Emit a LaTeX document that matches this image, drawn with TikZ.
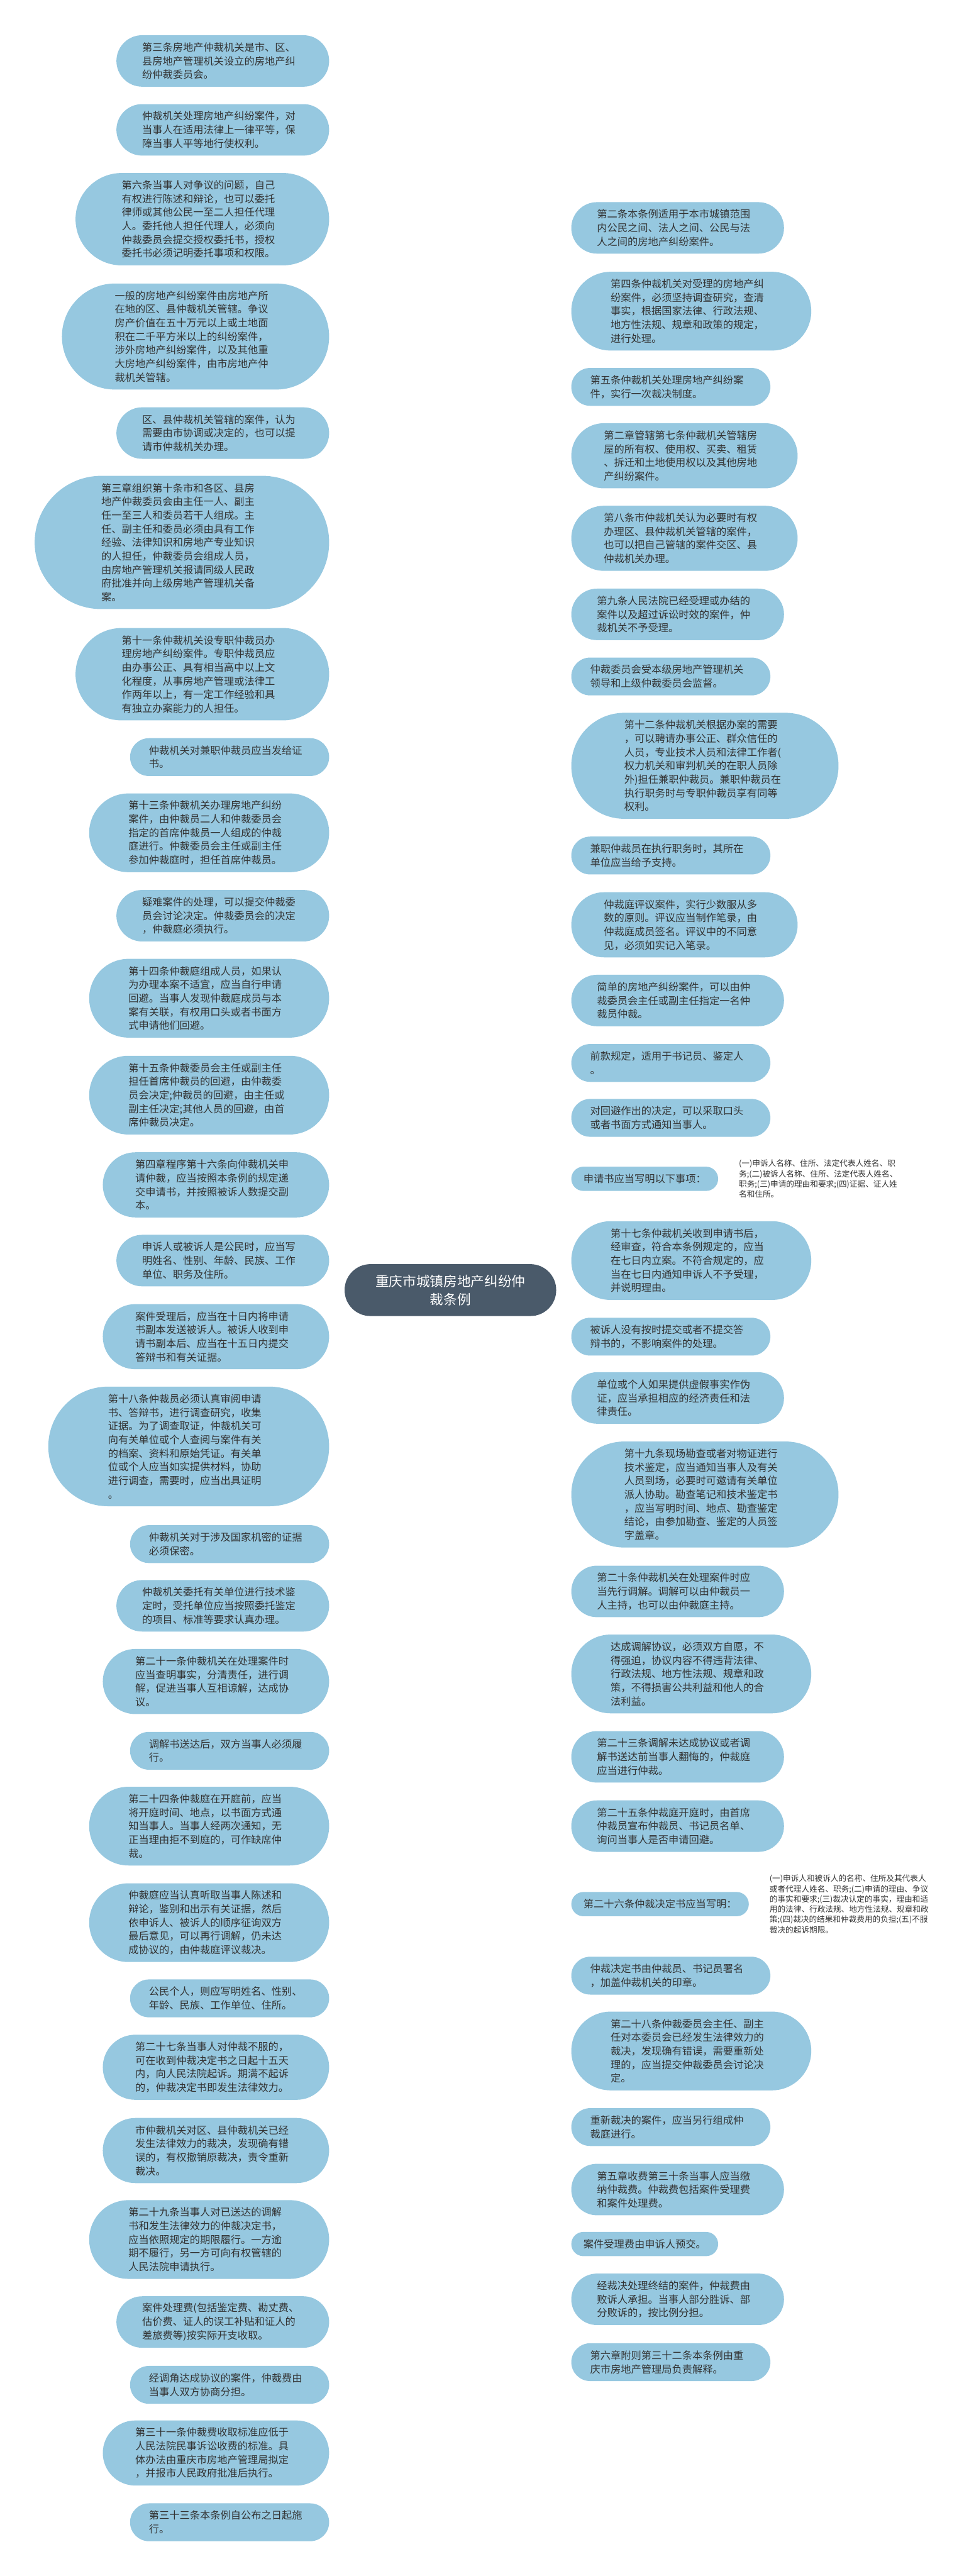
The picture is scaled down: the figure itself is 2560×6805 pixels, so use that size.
\documentclass[tikz,border=0pt]{standalone}
\usepackage{fontspec}
\newfontfamily\cjk{Noto Sans CJK SC}
\usetikzlibrary{backgrounds}
\definecolor{bubc}{HTML}{96C8E0}
\definecolor{txtc}{HTML}{333333}
\definecolor{lnkc}{HTML}{3D4C5A}
\definecolor{rootc}{HTML}{4A5A6A}
\tikzset{
  bubble/.style={fill=bubc, draw=none, text=txtc, font=\cjk\fontsize{13.5pt}{18pt}\selectfont, align=left, inner ysep=0pt},
  smalltxt/.style={text=txtc, font=\cjk\fontsize{10.5pt}{13.5pt}\selectfont, align=left, inner xsep=5.5pt, inner ysep=0pt},
  rootnode/.style={fill=rootc, draw=none, text=white, font=\cjk\fontsize{18pt}{24pt}\selectfont, align=center, minimum width=279.5pt, minimum height=68.5pt, rounded corners=34pt},
  link/.style={draw=lnkc, line width=1.5pt}
}
% left bubble: name, centre y, lines, text
\newcommand\LB[4]{\pgfmathsetmacro\hh{28+36*#3}%
  \node[bubble, anchor=east, minimum height=\hh*0.5pt, inner xsep=\hh*0.25pt, rounded corners=\hh*0.25pt, text width=213pt] (#1) at (870,#2) {#4};}
% right bubble
\newcommand\RB[4]{\pgfmathsetmacro\hh{28+36*#3}%
  \node[bubble, anchor=west, minimum height=\hh*0.5pt, inner xsep=\hh*0.25pt, rounded corners=\hh*0.25pt, text width=213pt] (#1) at (1509,#2) {#4};}
% right one-line bubble
\newcommand\RO[3]{%
  \node[bubble, anchor=west, minimum height=32pt, inner xsep=16pt, rounded corners=16pt] (#1) at (1509,#2) {#3};}
\begin{document}
\begin{tikzpicture}[x=0.5pt,y=-0.5pt]
\fill[white] (0,0) rectangle (2560,6805);
\useasboundingbox (0,0) rectangle (2560,6805);

\node[rootnode] (root) at (1190,3408) {重庆市城镇房地产纠纷仲\\裁条例};

\LB{L1}{161}{3}{第三条房地产仲裁机关是市、区、\\县房地产管理机关设立的房地产纠\\纷仲裁委员会。}
\LB{L2}{343}{3}{仲裁机关处理房地产纠纷案件，对\\当事人在适用法律上一律平等，保\\障当事人平等地行使权利。}
\LB{L3}{579}{6}{第六条当事人对争议的问题，自己\\有权进行陈述和辩论，也可以委托\\律师或其他公民一至二人担任代理\\人。委托他人担任代理人，必须向\\仲裁委员会提交授权委托书，授权\\委托书必须记明委托事项和权限。}
\LB{L4}{889}{7}{一般的房地产纠纷案件由房地产所\\在地的区、县仲裁机关管辖。争议\\房产价值在五十万元以上或土地面\\积在二千平方米以上的纠纷案件，\\涉外房地产纠纷案件，以及其他重\\大房地产纠纷案件，由市房地产仲\\裁机关管辖。}
\LB{L5}{1144}{3}{区、县仲裁机关管辖的案件，认为\\需要由市协调或决定的，也可以提\\请市仲裁机关办理。}
\LB{L6}{1433}{9}{第三章组织第十条市和各区、县房\\地产仲裁委员会由主任一人、副主\\任一至三人和委员若干人组成。主\\任、副主任和委员必须由具有工作\\经验、法律知识和房地产专业知识\\的人担任，仲裁委员会组成人员，\\由房地产管理机关报请同级人民政\\府批准并向上级房地产管理机关备\\案。}
\LB{L7}{1781}{6}{第十一条仲裁机关设专职仲裁员办\\理房地产纠纷案件。专职仲裁员应\\由办事公正、具有相当高中以上文\\化程度，从事房地产管理或法律工\\作两年以上，有一定工作经验和具\\有独立办案能力的人担任。}
\LB{L8}{2000}{2}{仲裁机关对兼职仲裁员应当发给证\\书。}
\LB{L9}{2200}{5}{第十三条仲裁机关办理房地产纠纷\\案件，由仲裁员二人和仲裁委员会\\指定的首席仲裁员一人组成的仲裁\\庭进行。仲裁委员会主任或副主任\\参加仲裁庭时，担任首席仲裁员。}
\LB{L10}{2419}{3}{疑难案件的处理，可以提交仲裁委\\员会讨论决定。仲裁委员会的决定\\，仲裁庭必须执行。}
\LB{L11}{2637}{5}{第十四条仲裁庭组成人员，如果认\\为办理本案不适宜，应当自行申请\\回避。当事人发现仲裁庭成员与本\\案有关联，有权用口头或者书面方\\式申请他们回避。}
\LB{L12}{2893}{5}{第十五条仲裁委员会主任或副主任\\担任首席仲裁员的回避，由仲裁委\\员会决定;仲裁员的回避，由主任或\\副主任决定;其他人员的回避，由首\\席仲裁员决定。}
\LB{L13}{3130}{4}{第四章程序第十六条向仲裁机关申\\请仲裁，应当按照本条例的规定递\\交申请书，并按照被诉人数提交副\\本。}
\LB{L14}{3330}{3}{申诉人或被诉人是公民时，应当写\\明姓名、性别、年龄、民族、工作\\单位、职务及住所。}
\LB{L15}{3531}{4}{案件受理后，应当在十日内将申请\\书副本发送被诉人。被诉人收到申\\请书副本后、应当在十五日内提交\\答辩书和有关证据。}
\LB{L16}{3821}{8}{第十八条仲裁员必须认真审阅申请\\书、答辩书，进行调查研究，收集\\证据。为了调查取证，仲裁机关可\\向有关单位或个人查阅与案件有关\\的档案、资料和原始凭证。有关单\\位或个人应当如实提供材料，协助\\进行调查，需要时，应当出具证明\\。}
\LB{L17}{4079}{2}{仲裁机关对于涉及国家机密的证据\\必须保密。}
\LB{L18}{4242}{3}{仲裁机关委托有关单位进行技术鉴\\定时，受托单位应当按照委托鉴定\\的项目、标准等要求认真办理。}
\LB{L19}{4442}{4}{第二十一条仲裁机关在处理案件时\\应当查明事实，分清责任，进行调\\解，促进当事人互相谅解，达成协\\议。}
\LB{L20}{4625}{2}{调解书送达后，双方当事人必须履\\行。}
\LB{L21}{4824}{5}{第二十四条仲裁庭在开庭前，应当\\将开庭时间、地点，以书面方式通\\知当事人。当事人经两次通知，无\\正当理由拒不到庭的，可作缺席仲\\裁。}
\LB{L22}{5079}{5}{仲裁庭应当认真听取当事人陈述和\\辩论，鉴别和出示有关证据，然后\\依申诉人、被诉人的顺序征询双方\\最后意见，可以再行调解，仍未达\\成协议的，由仲裁庭评议裁决。}
\LB{L23}{5279}{2}{公民个人，则应写明姓名、性别、\\年龄、民族、工作单位、住所。}
\LB{L24}{5461}{4}{第二十七条当事人对仲裁不服的，\\可在收到仲裁决定书之日起十五天\\内，向人民法院起诉。期满不起诉\\的，仲裁决定书即发生法律效力。}
\LB{L25}{5681}{4}{市仲裁机关对区、县仲裁机关已经\\发生法律效力的裁决，发现确有错\\误的，有权撤销原裁决，责令重新\\裁决。}
\LB{L26}{5916}{5}{第二十九条当事人对已送达的调解\\书和发生法律效力的仲裁决定书，\\应当依照规定的期限履行。一方逾\\期不履行，另一方可向有权管辖的\\人民法院申请执行。}
\LB{L27}{6134}{3}{案件处理费(包括鉴定费、勘丈费、\\估价费、证人的误工补贴和证人的\\差旅费等)按实际开支收取。}
\LB{L28}{6300}{2}{经调角达成协议的案件，仲裁费由\\当事人双方协商分担。}
\LB{L29}{6480}{4}{第三十一条仲裁费收取标准应低于\\人民法院民事诉讼收费的标准。具\\体办法由重庆市房地产管理局拟定\\，并报市人民政府批准后执行。}
\LB{L30}{6663}{2}{第三十三条本条例自公布之日起施\\行。}

\RB{R1}{602}{3}{第二条本条例适用于本市城镇范围\\内公民之间、法人之间、公民与法\\人之间的房地产纠纷案件。}
\RB{R2}{822}{5}{第四条仲裁机关对受理的房地产纠\\纷案件，必须坚持调查研究，查清\\事实，根据国家法律、行政法规、\\地方性法规、规章和政策的规定，\\进行处理。}
\RB{R3}{1022}{2}{第五条仲裁机关处理房地产纠纷案\\件，实行一次裁决制度。}
\RB{R4}{1204}{4}{第二章管辖第七条仲裁机关管辖房\\屋的所有权、使用权、买卖、租赁\\、拆迁和土地使用权以及其他房地\\产纠纷案件。}
\RB{R5}{1422}{4}{第八条市仲裁机关认为必要时有权\\办理区、县仲裁机关管辖的案件，\\也可以把自己管辖的案件交区、县\\仲裁机关办理。}
\RB{R6}{1623}{3}{第九条人民法院已经受理或办结的\\案件以及超过诉讼时效的案件，仲\\裁机关不予受理。}
\RB{R7}{1787}{2}{仲裁委员会受本级房地产管理机关\\领导和上级仲裁委员会监督。}
\RB{R8}{2023}{7}{第十二条仲裁机关根据办案的需要\\，可以聘请办事公正、群众信任的\\人员，专业技术人员和法律工作者(\\权力机关和审判机关的在职人员除\\外)担任兼职仲裁员。兼职仲裁员在\\执行职务时与专职仲裁员享有同等\\权利。}
\RB{R9}{2260}{2}{兼职仲裁员在执行职务时，其所在\\单位应当给予支持。}
\RB{R10}{2443}{4}{仲裁庭评议案件，实行少数服从多\\数的原则。评议应当制作笔录，由\\仲裁庭成员签名。评议中的不同意\\见，必须如实记入笔录。}
\RB{R11}{2643}{3}{简单的房地产纠纷案件，可以由仲\\裁委员会主任或副主任指定一名仲\\裁员仲裁。}
\RB{R12}{2808}{2}{前款规定，适用于书记员、鉴定人\\。}
\RB{R13}{2953}{2}{对回避作出的决定，可以采取口头\\或者书面方式通知当事人。}
\RO{R14}{3114}{申请书应当写明以下事项：}
\RB{R15}{3330}{5}{第十七条仲裁机关收到申请书后，\\经审查，符合本条例规定的，应当\\在七日内立案。不符合规定的，应\\当在七日内通知申诉人不予受理，\\并说明理由。}
\RB{R16}{3531}{2}{被诉人没有按时提交或者不提交答\\辩书的，不影响案件的处理。}
\RB{R17}{3693}{3}{单位或个人如果提供虚假事实作伪\\证，应当承担相应的经济责任和法\\律责任。}
\RB{R18}{3948}{7}{第十九条现场勘查或者对物证进行\\技术鉴定，应当通知当事人及有关\\人员到场，必要时可邀请有关单位\\派人协助。勘查笔记和技术鉴定书\\，应当写明时间、地点、勘查鉴定\\结论，由参加勘查、鉴定的人员签\\字盖章。}
\RB{R19}{4204}{3}{第二十条仲裁机关在处理案件时应\\当先行调解。调解可以由仲裁员一\\人主持，也可以由仲裁庭主持。}
\RB{R20}{4422}{5}{达成调解协议，必须双方自愿，不\\得强迫，协议内容不得违背法律、\\行政法规、地方性法规、规章和政\\策，不得损害公共利益和他人的合\\法利益。}
\RB{R21}{4641}{3}{第二十三条调解未达成协议或者调\\解书送达前当事人翻悔的，仲裁庭\\应当进行仲裁。}
\RB{R22}{4824}{3}{第二十五条仲裁庭开庭时，由首席\\仲裁员宣布仲裁员、书记员名单、\\询问当事人是否申请回避。}
\RO{R23}{5030}{第二十六条仲裁决定书应当写明：}
\RB{R24}{5219}{2}{仲裁决定书由仲裁员、书记员署名\\，加盖仲裁机关的印章。}
\RB{R25}{5418}{5}{第二十八条仲裁委员会主任、副主\\任对本委员会已经发生法律效力的\\裁决，发现确有错误，需要重新处\\理的，应当提交仲裁委员会讨论决\\定。}
\RB{R26}{5619}{2}{重新裁决的案件，应当另行组成仲\\裁庭进行。}
\RB{R27}{5784}{3}{第五章收费第三十条当事人应当缴\\纳仲裁费。仲裁费包括案件受理费\\和案件处理费。}
\RO{R28}{5928}{案件受理费由申诉人预交。}
\RB{R29}{6074}{3}{经裁决处理终结的案件，仲裁费由\\败诉人承担。当事人部分胜诉、部\\分败诉的，按比例分担。}
\RB{R30}{6240}{2}{第六章附则第三十二条本条例由重\\庆市房地产管理局负责解释。}

\node[smalltxt, anchor=west] (S1) at (1941,3114) {(一)申诉人名称、住所、法定代表人姓名、职\\务;(二)被诉人名称、住所、法定代表人姓名、\\职务;(三)申请的理由和要求;(四)证据、证人姓\\名和住所。};
\node[smalltxt, anchor=west] (S2) at (2022,5030) {(一)申诉人和被诉人的名称、住所及其代表人\\或者代理人姓名、职务;(二)申请的理由、争议\\的事实和要求;(三)裁决认定的事实，理由和适\\用的法律、行政法规、地方性法规、规章和政\\策;(四)裁决的结果和仲裁费用的负担;(五)不服\\裁决的起诉期限。};

\begin{pgfonlayer}{background}
\foreach \n in {L1,L2,L3,L4,L5,L6,L7,L8,L9,L10,L11,L12,L13,L14,L15,L16,L17,L18,L19,L20,L21,L22,L23,L24,L25,L26,L27,L28,L29,L30}
  \draw[link] (root.center) .. controls (root.center) and (root.center |- \n.east) .. (\n.east);
\foreach \n in {R1,R2,R3,R4,R5,R6,R7,R8,R9,R10,R11,R12,R13,R14,R15,R16,R17,R18,R19,R20,R21,R22,R23,R24,R25,R26,R27,R28,R29,R30}
  \draw[link] (root.center) .. controls (root.center) and (root.center |- \n.west) .. (\n.west);
\draw[link] (R14.east) -- (S1.west);
\draw[link] (R23.east) -- (S2.west);
\end{pgfonlayer}
\end{tikzpicture}
\end{document}
